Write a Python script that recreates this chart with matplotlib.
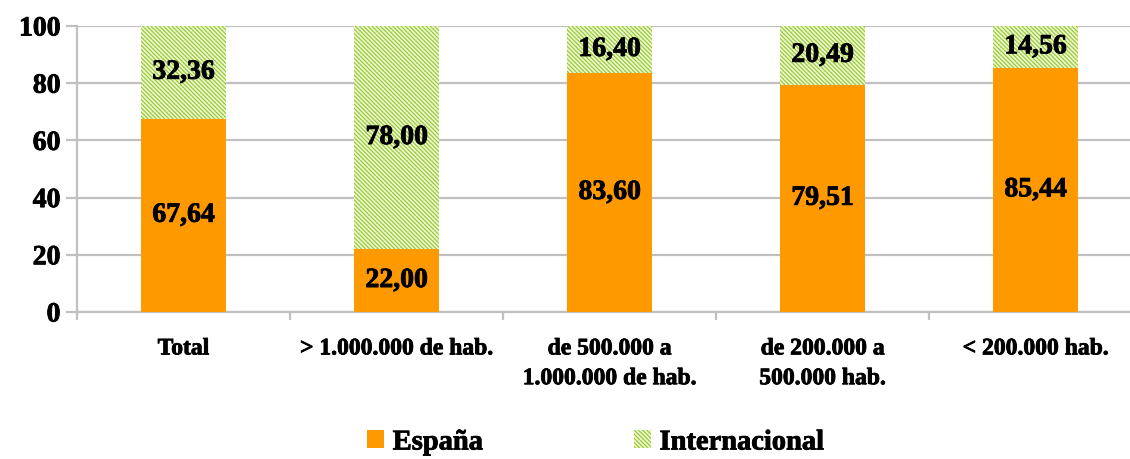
import matplotlib
matplotlib.use("Agg")
import matplotlib.pyplot as plt
import matplotlib.patheffects as pe
from matplotlib.patches import Patch
import numpy as np

categories = ["Total", "> 1.000.000 de hab.", "de 500.000 a\n1.000.000 de hab.",
              "de 200.000 a\n500.000 hab.", "< 200.000 hab."]
espana = [67.64, 22.00, 83.60, 79.51, 85.44]
internacional = [32.36, 78.00, 16.40, 20.49, 14.56]
series_names = ["España", "Internacional"]
yticks = [0, 20, 40, 60, 80, 100]

plt.rcParams['font.family'] = ['Liberation Serif', 'DejaVu Serif']
plt.rcParams['font.weight'] = 'bold'
plt.rcParams['hatch.linewidth'] = 0.9
plt.rcParams['hatch.color'] = '#99CC33'

ORANGE = '#FF9900'
GRID = '#C0C0C0'
HFACE = '#F0F7D8'
HATCH = '\\\\\\\\\\\\\\\\'
THICK = [pe.withStroke(linewidth=0.6, foreground='black')]

fig = plt.figure(figsize=(11.3, 4.59), dpi=100)
ax = fig.add_axes([77/1130, (459-312)/459, 1065/1130, 286/459])

x = np.arange(len(categories))
w = 0.40
ax.bar(x, espana, w, color=ORANGE, zorder=3)
ax.bar(x, internacional, w, bottom=espana, facecolor=HFACE, edgecolor='#99CC33',
       hatch=HATCH, linewidth=0, zorder=3)

for i in range(len(x)):
    ax.text(x[i], espana[i]/2, f"{espana[i]:.2f}".replace('.', ','), ha='center', va='center',
            fontsize=20, fontweight='bold', zorder=4, path_effects=THICK)
    ax.text(x[i], espana[i] + internacional[i]/2, f"{internacional[i]:.2f}".replace('.', ','),
            ha='center', va='center', fontsize=20, fontweight='bold', zorder=4, path_effects=THICK)

ax.set_xlim(-0.5, len(x) - 0.5)
ax.set_ylim(0, 100)
ax.set_yticks(yticks)
ax.set_yticklabels([str(t) for t in yticks], fontsize=20, fontweight='bold')
ax.yaxis.grid(True, color=GRID, linewidth=1.6, zorder=0)
ax.set_axisbelow(True)

ax.set_xticks(x)
ax.set_xticklabels(categories, fontsize=17, fontweight='bold', linespacing=1.55, va='top')
ax.tick_params(axis='x', length=0, pad=19)
ax.set_xticks(np.arange(-0.5, len(x) + 0.5, 1), minor=True)
ax.tick_params(axis='x', which='minor', length=6, width=1.6, color=GRID, direction='out')
ax.tick_params(axis='y', length=8, width=1.6, color=GRID, direction='out', pad=4)
for lab in ax.get_xticklabels() + ax.get_yticklabels():
    lab.set_path_effects(THICK)

for s in ['top', 'right']:
    ax.spines[s].set_visible(False)
for s in ['left', 'bottom']:
    ax.spines[s].set_color(GRID)
    ax.spines[s].set_linewidth(1.6)

handles = [Patch(facecolor=ORANGE, edgecolor='none'),
           Patch(facecolor=HFACE, edgecolor='#99CC33', hatch=HATCH, linewidth=0)]
leg = fig.legend(handles, series_names, loc='center', bbox_to_anchor=(0.527, 0.035), ncol=2,
                 frameon=False, prop={'family': 'Liberation Serif', 'weight': 'bold', 'size': 20.5},
                 handlelength=0.6, handleheight=0.6, handletextpad=0.3, columnspacing=5.3,
                 borderpad=0)
for t in leg.get_texts():
    t.set_path_effects(THICK)

fig.savefig("out.png", dpi=100)
